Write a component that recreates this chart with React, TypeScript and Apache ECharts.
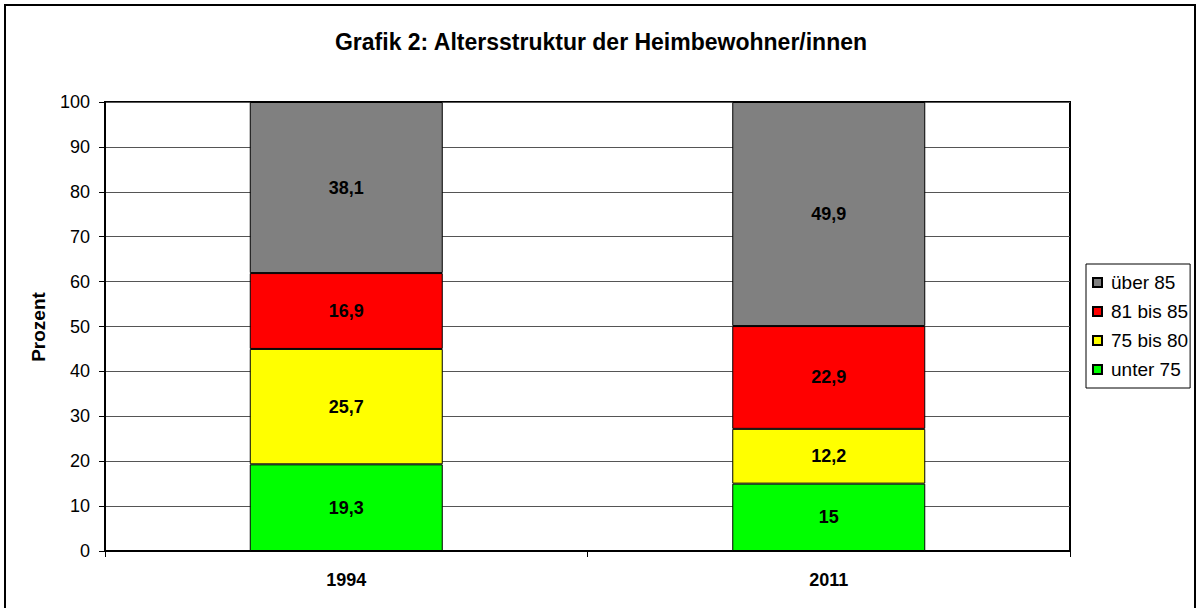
import React, { useEffect, useRef } from "react";
import * as echarts from "echarts";

const categories = ["1994", "2011"];
const seriesNames = ["unter 75", "75 bis 80", "81 bis 85", "über 85"];
const unter75 = [19.3, 15];
const bis80 = [25.7, 12.2];
const bis85 = [16.9, 22.9];
const ueber85 = [38.1, 49.9];
const colors = ["#00ff00", "#ffff00", "#ff0000", "#808080"];
const yTicks = [0, 10, 20, 30, 40, 50, 60, 70, 80, 90, 100];

const FONT = "Liberation Sans, Arial, sans-serif";

export default function App() {
  const ref = useRef<HTMLDivElement>(null);
  useEffect(() => {
    if (!ref.current) return;
    const chart = echarts.init(ref.current, undefined, { renderer: "svg" });
    const dataSets = [unter75, bis80, bis85, ueber85];
    chart.setOption({
      animation: false,
      backgroundColor: "#fff",
      textStyle: { fontFamily: FONT },
      title: {
        text: "Grafik 2: Altersstruktur der Heimbewohner/innen",
        left: 601,
        textAlign: "center",
        top: 30,
        padding: 0,
        textStyle: { fontSize: 23, fontWeight: "bold", color: "#000", fontFamily: FONT, lineHeight: 23 },
      },
      graphic: [
        {
          type: "rect",
          shape: { x: 5, y: 5, width: 1190, height: 700 },
          style: { fill: "none", stroke: "#000", lineWidth: 2 },
          silent: true,
        },
        {
          type: "text",
          x: 38,
          y: 327,
          rotation: Math.PI / 2,
          style: {
            text: "Prozent",
            fontSize: 19,
            fontWeight: "bold",
            fill: "#000",
            fontFamily: FONT,
            align: "center",
            verticalAlign: "middle",
          },
        },
      ],
      legend: {
        orient: "vertical",
        left: 1086,
        top: 264,
        data: [...seriesNames].reverse(),
        icon: "rect",
        itemWidth: 9,
        itemHeight: 9,
        itemGap: 10,
        borderColor: "#000",
        borderWidth: 1,
        padding: [9, 2, 9, 6],
        textStyle: { fontSize: 19, color: "#000", fontFamily: FONT, lineHeight: 19, padding: [0, 0, 0, 4] },
      },
      grid: {
        left: 105,
        right: 131,
        top: 102,
        bottom: 57,
        show: true,
        borderColor: "#000",
        borderWidth: 2,
        backgroundColor: "#fff",
      },
      xAxis: {
        type: "category",
        data: categories,
        axisLine: { lineStyle: { color: "#000", width: 2 } },
        axisTick: { show: true, length: 6, lineStyle: { color: "#000" } },
        axisLabel: { fontSize: 18, fontWeight: "bold", color: "#000", margin: 20, fontFamily: FONT },
      },
      yAxis: {
        type: "value",
        min: yTicks[0],
        max: yTicks[yTicks.length - 1],
        interval: 10,
        axisLine: { show: true, lineStyle: { color: "#000", width: 2 } },
        axisTick: { show: true, length: 6, lineStyle: { color: "#000" } },
        axisLabel: { fontSize: 18, color: "#000", margin: 15, fontFamily: FONT },
        splitLine: { show: true, lineStyle: { color: "#555", width: 1 } },
      },
      series: seriesNames.map((name, i) => ({
        name,
        type: "bar",
        stack: "total",
        barWidth: "40%",
        data: dataSets[i],
        itemStyle: { color: colors[i], borderColor: "#000", borderWidth: 1 },
        label: {
          show: true,
          position: "inside",
          fontSize: 18,
          fontWeight: "bold",
          color: "#000",
          fontFamily: FONT,
          formatter: (p: any) => String(p.value).replace(".", ","),
        },
      })),
    });
    return () => chart.dispose();
  }, []);
  return (
    <div
      ref={ref}
      style={{ position: "fixed", left: 0, top: 0, width: 1201, height: 608 }}
    />
  );
}
